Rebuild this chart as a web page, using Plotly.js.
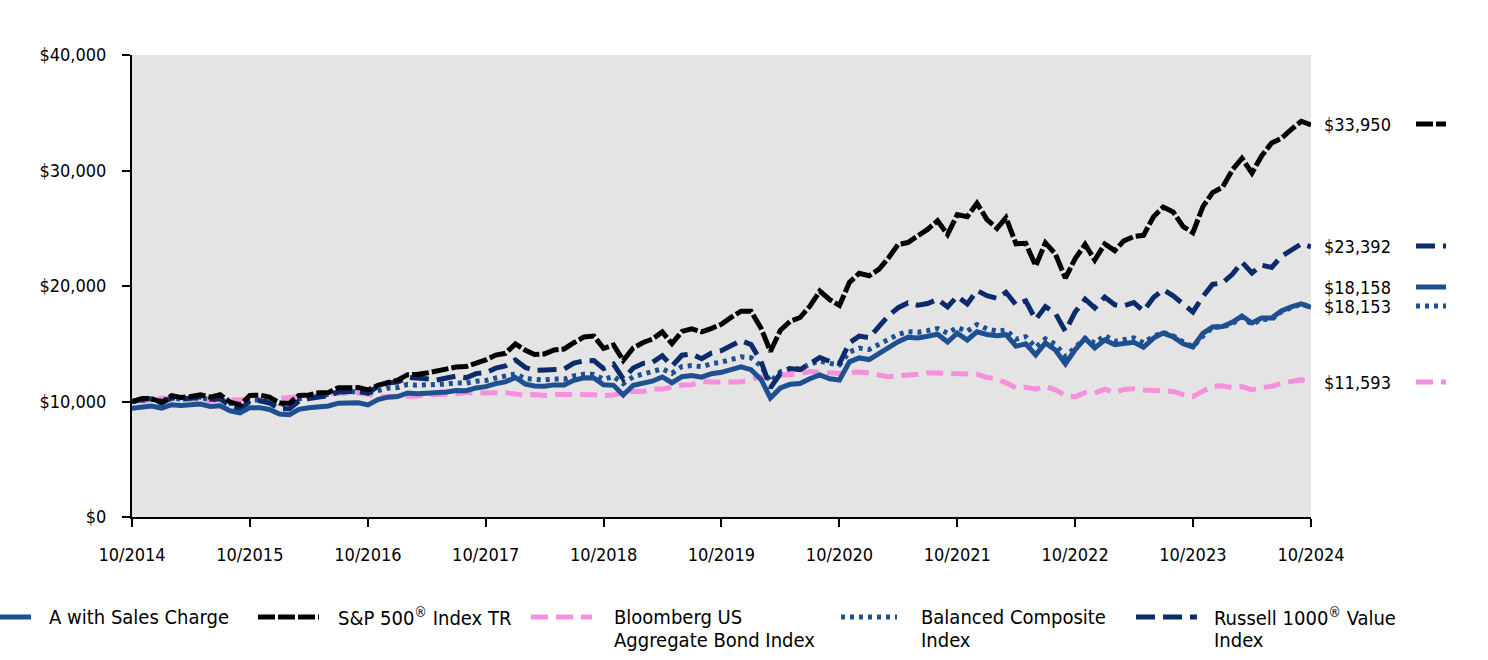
<!DOCTYPE html>
<html>
<head>
<meta charset="utf-8">
<script src="https://cdn.plot.ly/plotly-3.0.1.min.js"></script>
<style>
html,body{margin:0;padding:0;background:#fff;}
#chart{width:1488px;height:660px;}
</style>
</head>
<body>
<div id="chart"></div>
<script>
// ---- data ----
const startYear = 2014, startMonth = 10, nMonths = 121;
const dates = [];
for (let k = 0; k < nMonths; k++) {
  const m = (startMonth - 1 + k) % 12 + 1;
  const y = startYear + Math.floor((startMonth - 1 + k) / 12);
  dates.push(y + '-' + (m < 10 ? '0' + m : m) + '-01');
}

const fundA = [9425,9570,9611,9431,9720,9658,9705,9778,9577,9637,
9198,9010,9466,9467,9306,8921,8854,9319,9451,9542,
9609,9853,9897,9882,9702,10160,10372,10424,10736,10667,
10712,10723,10821,10958,10941,11175,11285,11551,11702,12080,
11505,11342,11330,11439,11434,11830,12052,12037,11444,11400,
10569,11413,11653,11759,12127,11625,12149,12256,12105,12408,
12527,12783,12992,12754,11907,10306,11173,11488,11557,11970,
12293,11971,11854,13434,13774,13632,14196,14701,15180,15569,
15509,15652,15827,15152,15911,15322,16033,15800,15698,15785,
14784,14988,14037,15066,14459,13251,14472,15465,14641,15327,
14921,15026,15120,14700,15494,15924,15597,15000,14721,15900,
16450,16500,16880,17400,16800,17230,17230,17830,18200,18450,
18158];

const sp500 = [10000,10269,10243,9936,10507,10341,10440,10575,10370,10588,
9949,9703,10522,10554,10387,9872,9859,10527,10568,10758,
10786,11184,11200,11202,10998,11405,11631,11852,12323,12338,
12465,12641,12719,12981,13021,13289,13599,14016,14172,14984,
14431,14065,14118,14458,14548,15089,15581,15670,14598,14896,
13551,14636,15106,15399,16023,15006,16064,16295,16038,16338,
16693,17299,17821,17814,16348,14329,16166,16935,17272,18246,
19558,18815,18314,20320,21100,20887,21463,22403,23599,23764,
24318,24897,25654,24461,26176,25995,27160,25756,24986,25913,
23653,23696,21741,23745,22776,20678,22353,23602,22243,23640,
23063,23909,24282,24386,25998,26833,26406,25147,24619,26867,
28087,28559,30084,31053,29786,31263,32385,32780,33560,34262,
33950];

const aggBond = [10000,10071,10080,10292,10199,10250,10209,10189,10077,10147,
10137,10208,10208,10177,10147,10289,10361,10455,10497,10497,
10686,10750,10739,10728,10642,10387,10397,10418,10491,10480,
10564,10648,10637,10680,10776,10722,10733,10722,10776,10647,
10541,10604,10530,10604,10593,10593,10657,10593,10508,10571,
10761,10879,10868,11075,11075,11274,11421,11444,11741,11682,
11717,11705,11694,11916,12131,12058,12275,12336,12410,12596,
12495,12483,12421,12545,12558,12470,12296,12136,12233,12270,
12356,12492,12467,12355,12355,12392,12355,12083,11950,11615,
11174,11241,11061,11327,11010,10536,10399,10784,10730,11063,
10775,11044,11110,10988,10944,10933,10868,10596,10426,10895,
11309,11355,11195,11295,11013,11201,11313,11573,11735,11888,
11593];

const balanced = [10000,10148,10192,10033,10286,10220,10259,10325,10156,10209,
9837,9688,10124,10136,10006,9750,9783,10241,10386,10486,
10618,10828,10876,10859,10720,10984,11153,11209,11482,11409,
11432,11407,11512,11620,11578,11763,11817,12032,12164,12390,
11984,11876,11864,11940,11935,12221,12361,12346,11921,12164,
11551,12142,12371,12510,12833,12433,13035,13108,13016,13271,
13398,13642,13866,13788,13085,11711,12582,12864,12841,13226,
13509,13301,13171,14291,14622,14502,14943,15394,15813,16050,
15989,16136,16317,15916,16403,16078,16666,16289,16100,16190,
15400,15613,14698,15421,14952,13905,14692,15465,15063,15720,
15226,15333,15508,15077,15650,15972,15675,15151,14736,15664,
16419,16468,16741,17304,16684,17118,17094,17774,18162,18460,
18153];

const russellValue = [10000,10200,10267,9856,10329,10184,10276,10399,10191,10232,
9618,9330,10030,10070,9875,9362,9371,10046,10257,10421,
10515,10820,10906,10884,10710,11320,11603,11684,12105,11984,
11960,11852,12041,12198,12052,12413,12500,12888,13081,13591,
12939,12693,12731,12808,12808,13320,13520,13547,12843,13228,
11958,12891,13303,13383,13958,13065,14006,14118,13709,14202,
14401,14847,15263,14927,13479,11174,12425,12847,12757,13268,
13812,13467,13292,15086,15660,15519,16450,17421,18118,18535,
18331,18478,18847,18188,19115,18446,19608,19157,18927,19457,
18368,18717,17089,18217,17634,16082,17738,18855,18101,19042,
18376,18284,18558,17834,19011,19676,19145,18398,17754,19086,
20136,20277,21027,22079,21129,21805,21609,22560,23170,23650,
23392];

const seriesNames = ['A with Sales Charge', 'S&P 500<sup>®</sup> Index TR', 'Bloomberg US Aggregate Bond Index', 'Balanced Composite Index', 'Russell 1000<sup>®</sup> Value Index'];
const legendLines = [['A with Sales Charge'], ['S&P 500<sup>®</sup> Index TR'], ['Bloomberg US', 'Aggregate Bond Index'], ['Balanced Composite', 'Index'], ['Russell 1000<sup>®</sup> Value', 'Index']];
const endLabels = ['$18,158', '$33,950', '$11,593', '$18,153', '$23,392'];
const yTickVals = [0, 10000, 20000, 30000, 40000];
const yTickText = ['$0', '$10,000', '$20,000', '$30,000', '$40,000'];
const xTickVals = ['2014-10-01','2015-10-01','2016-10-01','2017-10-01','2018-10-01','2019-10-01','2020-10-01','2021-10-01','2022-10-01','2023-10-01','2024-10-01'];
const xTickText = ['10/2014','10/2015','10/2016','10/2017','10/2018','10/2019','10/2020','10/2021','10/2022','10/2023','10/2024'];

// ---- styles ----
const FONT = '"DejaVu Sans Condensed", "Liberation Sans Narrow", "DejaVu Sans", sans-serif';
const cFund = '#1d4f91', cSP = '#000000', cAgg = '#f78fdd', cBal = '#1d4f91', cRus = '#0b2b6a';
const styles = [
  {color: cFund, dash: 'solid'},
  {color: cSP, dash: '17px,3px'},
  {color: cAgg, dash: '17px,8px'},
  {color: cBal, dash: '4px,5px'},
  {color: cRus, dash: '19px,8px'}
];
const valuesList = [fundA, sp500, aggBond, balanced, russellValue];
const drawOrder = [2, 3, 4, 1, 0];

const traces = drawOrder.map(k => ({
  type: 'scatter', mode: 'lines', x: dates, y: valuesList[k], name: seriesNames[k],
  line: {color: styles[k].color, width: 5, dash: styles[k].dash},
  showlegend: false, hoverinfo: 'skip'
}));

// plot-area geometry (px)
const L = 132, R = 1311, T = 55, B = 517;
const px2x = px => (px - L) / (R - L);
const py2y = py => (B - py) / (B - T);

const shapes = [], annotations = [];

// right-side end labels and samples
const endY = [287, 124, 382, 306, 246];
for (let k = 0; k < 5; k++) {
  annotations.push({xref: 'paper', yref: 'paper', x: px2x(1322), y: py2y(endY[k]),
    xanchor: 'left', yanchor: 'middle', text: endLabels[k], showarrow: false,
    font: {family: FONT, size: 18, color: '#000'}});
  shapes.push({type: 'line', xref: 'paper', yref: 'paper',
    x0: px2x(1416), x1: px2x(1446), y0: py2y(endY[k]), y1: py2y(endY[k]),
    line: {color: styles[k].color, width: 5, dash: styles[k].dash}});
}

// bottom legend
const legSample = [[-30, 31], [258, 319], [531, 592], [841, 897], [1136, 1197]];
const legText = [47, 336, 612, 919, 1212];
const legY = 617, legLineGap = 23;
for (let k = 0; k < 5; k++) {
  shapes.push({type: 'line', xref: 'paper', yref: 'paper',
    x0: px2x(legSample[k][0]), x1: px2x(legSample[k][1]), y0: py2y(legY), y1: py2y(legY),
    line: {color: styles[k].color, width: 5, dash: styles[k].dash}});
  legendLines[k].forEach((t, j) => {
    annotations.push({xref: 'paper', yref: 'paper', x: px2x(legText[k]), y: py2y(legY + j * legLineGap),
      xanchor: 'left', yanchor: 'middle', align: 'left', text: t, showarrow: false,
      font: {family: FONT, size: 20, color: '#000'}});
  });
}

const layout = {
  width: 1488, height: 660,
  margin: {l: L, r: 1488 - R, t: T, b: 660 - B, pad: 0},
  paper_bgcolor: '#ffffff', plot_bgcolor: '#e4e4e4',
  font: {family: FONT, size: 18, color: '#000'},
  showlegend: false,
  xaxis: {
    type: 'date', range: ['2014-10-01', '2024-10-01'],
    tickvals: xTickVals, ticktext: xTickText,
    showgrid: false, zeroline: false, showline: true, linecolor: '#000', linewidth: 2,
    ticks: 'outside', ticklen: 8, tickwidth: 2, tickcolor: '#000',
    ticklabelstandoff: 12, tickfont: {family: FONT, size: 18, color: '#000'}
  },
  yaxis: {
    range: [0, 40000], tickvals: yTickVals, ticktext: yTickText,
    showgrid: false, zeroline: false, showline: true, linecolor: '#000', linewidth: 2,
    ticks: 'outside', ticklen: 8, tickwidth: 2, tickcolor: '#000',
    ticklabelstandoff: 12, tickfont: {family: FONT, size: 18, color: '#000'}
  },
  shapes: shapes, annotations: annotations
};

Plotly.newPlot('chart', traces, layout, {staticPlot: true, displayModeBar: false});
</script>
</body>
</html>
